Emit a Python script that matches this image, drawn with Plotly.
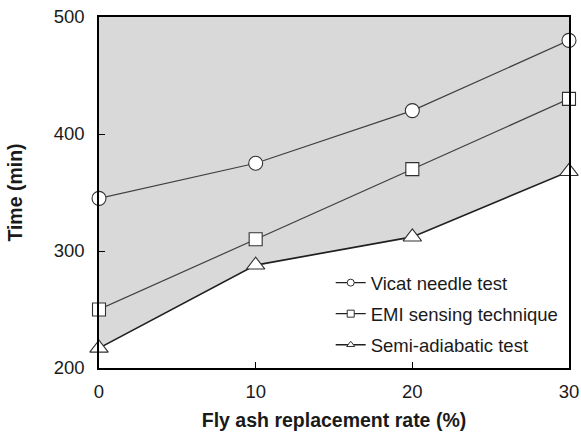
import plotly.graph_objects as go

x_rate = [0, 10, 20, 30]
vicat = [345, 375, 420, 480]
emi = [250, 310, 370, 430]
semi = [217, 288, 312, 368]

names = ["Vicat needle test", "EMI sensing technique", "Semi-adiabatic test"]
symbols = ["circle", "square", "triangle-up"]
sizes = [14, 13, 16]
legend_sizes = [7, 7, 7]

line_cols = ["#404040", "#404040", "#202020"]
line_ws = [1.2, 1.2, 1.7]
fig = go.Figure()

series = [vicat, emi, semi]
for i, (ys, nm, sym) in enumerate(zip(series, names, symbols)):
    kw = {}
    if i == 2:
        kw = dict(fill="tozeroy", fillcolor="white")
    fig.add_trace(go.Scatter(
        x=x_rate, y=ys, name=nm, mode="lines+markers",
        line=dict(color=line_cols[i], width=line_ws[i]),
        marker=dict(symbol=sym, size=sizes[i], color="white",
                    line=dict(color="#303030", width=1.1)),
        cliponaxis=False, showlegend=False, **kw))

# legend entries (small markers, as in the reference)
for i, (nm, sym) in enumerate(zip(names, symbols)):
    fig.add_trace(go.Scatter(
        x=[None], y=[None], name=nm, mode="lines+markers",
        line=dict(color="#202020", width=1.3),
        marker=dict(symbol=sym, size=legend_sizes[i], color="white",
                    line=dict(color="#303030", width=1)),
        legendgroup=str(i), showlegend=True))

font_family = "Liberation Sans, Arial, sans-serif"
fig.update_layout(
    width=581, height=435,
    margin=dict(l=99, r=12, t=17, b=67, autoexpand=False),
    paper_bgcolor="white", plot_bgcolor="#d9d9d9",
    font=dict(family=font_family, size=18, color="#1a1a1a"),
    showlegend=True,
    legend=dict(x=0.493, y=0.296, xanchor="left", yanchor="top",
                bgcolor="rgba(0,0,0,0)", font=dict(size=18.5, family=font_family),
                tracegroupgap=4, itemwidth=30),
    xaxis=dict(range=[0, 30], tickvals=[0, 10, 20, 30], ticks="inside", ticklen=6,
               tickcolor="black", showline=True, linecolor="black", linewidth=1.5,
               mirror=True, showgrid=False, zeroline=False, ticklabelstandoff=6,
               automargin=False,
               title=dict(text="<b>Fly ash replacement rate (%)</b>", font=dict(size=19.5), standoff=12),
               tickfont=dict(size=18.5)),
    yaxis=dict(range=[200, 500], tickvals=[200, 300, 400, 500], ticks="inside", ticklen=6,
               tickcolor="black", showline=True, linecolor="black", linewidth=1.5,
               mirror=True, showgrid=False, zeroline=False, ticklabelstandoff=9,
               automargin=False,
               title=dict(text="<b>Time (min)</b>", font=dict(size=19.5), standoff=26),
               tickfont=dict(size=18.5)),
)

fig.write_html("out.html")
